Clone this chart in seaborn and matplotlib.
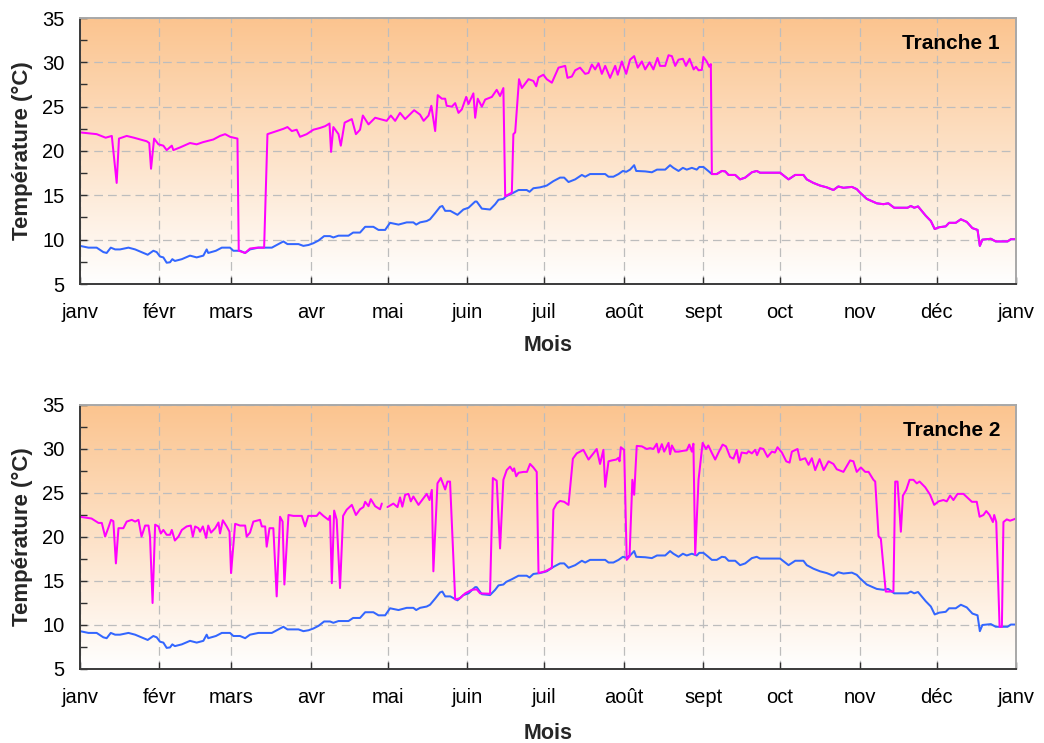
import numpy as np
import pandas as pd
import matplotlib
matplotlib.use("Agg")
import matplotlib.pyplot as plt
from matplotlib.ticker import MultipleLocator
import seaborn as sns

# ---------------- data ----------------
month_days = [0, 31, 59, 90, 120, 151, 181, 212, 243, 273, 304, 334, 365]
month_labels = ["janv", "févr", "mars", "avr", "mai", "juin", "juil", "août",
                "sept", "oct", "nov", "déc", "janv"]
panel_titles = ["Tranche 1", "Tranche 2"]

# river (inlet) temperature, same in both panels: (day, °C)
blue_points = [
    (0, 9.3), (3.3, 9.1), (6.5, 9.1), (9.1, 8.6), (10.4, 8.5), (12, 9.1), (13.7, 8.9),
    (15.6, 8.9), (18.9, 9.1), (21.5, 8.9), (24, 8.6), (26.4, 8.3), (28.6, 8.75),
    (29.9, 8.6), (31.2, 8.1), (32.5, 8.0), (33.8, 7.4), (35.1, 7.45), (36, 7.8),
    (37, 7.6), (39.7, 7.8), (42.9, 8.2), (45.5, 8.0), (48.1, 8.2), (49.4, 8.9),
    (50, 8.5), (53, 8.75), (55.3, 9.1), (58.5, 9.1), (59.8, 8.75), (62.4, 8.75),
    (64.4, 8.5), (66.3, 8.9), (69.6, 9.1), (74.8, 9.1), (76.7, 9.4), (79.3, 9.8),
    (80.9, 9.5), (85.2, 9.5), (87.1, 9.3), (89.1, 9.4), (91, 9.6), (93, 9.9),
    (95.2, 10.4), (97.5, 10.4), (98.8, 10.25), (100.8, 10.45), (104.7, 10.45),
    (106.5, 10.8), (109.2, 10.8), (111.2, 11.45), (114.4, 11.45), (116.4, 11.1),
    (119, 11.1), (120.9, 11.9), (124.2, 11.7), (127.4, 11.95), (130, 11.95),
    (131.1, 11.7), (132.6, 11.95), (135.2, 12.1), (136.5, 12.3), (138.5, 13.0),
    (140.4, 13.7), (141.3, 13.8), (142.4, 13.25), (144.4, 13.25), (147.2, 12.8),
    (149.5, 13.4), (151.5, 13.6), (154.1, 14.3), (154.7, 14.3), (156.7, 13.5),
    (159.9, 13.4), (161.9, 14.0), (163.2, 14.5), (165.1, 14.6), (166.2, 14.9),
    (168.4, 15.2), (171, 15.6), (174.2, 15.6), (175.3, 15.4), (176.8, 15.8),
    (179.4, 15.9), (182, 16.1), (184.6, 16.6), (187.2, 17.0), (188.8, 17.0),
    (190.5, 16.5), (193.1, 16.8), (195.7, 17.3), (197, 17.1), (198.9, 17.4),
    (204.8, 17.4), (206.1, 17.1), (208, 17.1), (210, 17.4), (211.7, 17.75),
    (213, 17.65), (214.5, 17.9), (216.1, 18.4), (216.9, 17.75), (220.4, 17.7),
    (223, 17.6), (225, 17.9), (228.2, 17.9), (230.1, 18.4), (231.4, 18.1),
    (233.4, 17.75), (235.1, 18.1), (236.6, 17.9), (238.6, 18.1), (240.5, 17.9),
    (241.5, 18.2), (243.1, 18.2), (245, 17.75), (246.4, 17.4), (248.3, 17.4),
    (250.3, 17.75), (251.6, 17.7), (252.9, 17.3), (255.5, 17.3), (257.4, 16.8),
    (259.4, 17.0), (262, 17.6), (263.9, 17.75), (265.2, 17.55), (273, 17.55),
    (276.3, 16.8), (278.9, 17.3), (282.1, 17.3), (283.4, 16.8), (286, 16.4),
    (288.6, 16.1), (291.2, 15.9), (293.8, 15.6), (295.7, 16.0), (297.7, 15.85),
    (301, 15.95), (302.9, 15.7), (304.2, 15.3), (306.8, 14.6), (310.7, 14.1),
    (313.3, 14.0), (315.2, 14.1), (317.5, 13.6), (322.7, 13.6), (324, 13.8),
    (325.3, 13.6), (326.8, 13.75), (329.8, 12.7), (331.8, 12.1), (333.3, 11.2),
    (335, 11.4), (337.6, 11.5), (338.9, 11.9), (341.5, 11.9), (343.5, 12.3),
    (345.8, 12.0), (348, 11.3), (350, 11.1), (350.9, 9.3), (351.9, 10.0),
    (355.2, 10.1), (357.1, 9.8), (361.7, 9.8), (363, 10.05), (365, 10.05),
]

# Tranche 1 outlet temperature until it meets the river curve (day 246.4)
t1_points = [
    (0, 22.1), (6.5, 21.9), (10, 21.5), (12.4, 21.7), (14.3, 16.4), (15.2, 21.4),
    (18.2, 21.7), (21, 21.5), (26, 21.1), (27, 20.9), (27.7, 18.0), (28.9, 21.4),
    (30.6, 20.75), (32.5, 20.6), (33.8, 20.1), (35.8, 20.6), (36.4, 20.1), (39, 20.4),
    (42.9, 20.9), (45.5, 20.75), (48, 21.0), (52, 21.3), (54.6, 21.7), (56.6, 21.9),
    (58.5, 21.6), (61.4, 21.4), (61.9, 8.75), (64.4, 8.5), (66.3, 9.0), (69, 9.1),
    (71.8, 9.1), (73.1, 21.9), (76.7, 22.25), (79.3, 22.5), (80.9, 22.7),
    (82.6, 22.25), (84.5, 22.4), (85.8, 21.6), (88.4, 21.9), (91, 22.4), (93.6, 22.6),
    (95.6, 22.8), (97.3, 23.1), (97.9, 19.9), (98.8, 22.7), (100.8, 21.9),
    (101.7, 20.6), (103.2, 23.2), (106, 23.6), (107.6, 21.9), (109.2, 22.4),
    (110.3, 24.0), (112.5, 23.0), (115.1, 23.75), (117, 23.6), (119.6, 23.4),
    (121.2, 24.0), (122.9, 23.4), (124.8, 24.3), (126.8, 23.6), (130.3, 24.6),
    (132.6, 24.1), (134, 23.4), (135.9, 24.0), (137, 25.1), (138.5, 22.25),
    (139.5, 26.3), (141.1, 25.9), (142.4, 25.9), (143, 25.1), (145, 25.0),
    (146.3, 25.4), (147.6, 24.3), (148.9, 24.7), (150.6, 26.1), (151.5, 25.3),
    (153.4, 26.5), (154.1, 23.75), (155.1, 25.9), (156.7, 25.0), (158, 25.8),
    (160.6, 26.1), (162.5, 26.9), (163.8, 26.2), (165.1, 27.1), (165.8, 14.9),
    (168.4, 15.3), (169, 21.9), (169.7, 22.1), (171.2, 28.1), (172.3, 27.1),
    (174.9, 28.1), (176.8, 27.9), (177.9, 27.3), (178.8, 28.3), (180.7, 28.6),
    (182, 28.1), (184, 27.7), (186.6, 29.4), (189.2, 29.6), (190.1, 28.25),
    (191.8, 28.4), (193.1, 29.1), (195, 29.4), (197, 28.7), (198.3, 28.8),
    (199.6, 29.75), (200.9, 29.2), (202.2, 29.9), (203.5, 28.7), (204.8, 29.6),
    (206.7, 28.25), (208.7, 29.6), (209.7, 28.6), (211.3, 30.1), (213, 28.7),
    (214.5, 30.3), (216.1, 30.7), (217.5, 29.4), (219.1, 30.1), (220.4, 29.2),
    (222.1, 30.0), (223.6, 29.2), (225.2, 30.5), (226.2, 29.6), (228.2, 29.6),
    (229.5, 30.8), (230.8, 30.7), (232.1, 29.6), (233.4, 30.3), (235.1, 30.4),
    (236.3, 29.6), (237.7, 30.4), (239.3, 29.2), (240.2, 29.5), (241.2, 29.1),
    (242.5, 29.15), (243.1, 30.6), (244.4, 30.1), (245.4, 29.5), (246, 29.8),
    (246.4, 17.4),
]

# Tranche 2 outlet temperature (None = missing data)
t2_points = [
    (0, 22.3), (4.5, 22.1), (7.2, 21.6), (8.5, 21.6), (9.8, 20.05), (11, 21.0),
    (12.1, 21.95), (13, 21.8), (14, 17.0), (15, 21.0), (16.9, 21.0), (18.2, 21.75),
    (20.2, 21.95), (21.5, 21.75), (22.8, 21.95), (24, 20.05), (25.4, 21.3),
    (26.7, 21.3), (27.3, 20.05), (28.3, 12.5), (29.3, 21.4), (30.6, 21.2),
    (31.5, 20.4), (32.5, 20.8), (33.8, 20.25), (35.1, 20.25), (35.8, 20.8),
    (37, 19.6), (38.4, 20.05), (39.7, 20.8), (41.6, 21.2), (43.2, 21.3), (44, 20.05),
    (44.9, 21.2), (46.2, 21.0), (46.8, 20.6), (47.9, 21.2), (49.2, 19.9), (50, 21.3),
    (51.1, 20.5), (52.7, 21.0), (54, 21.65), (54.6, 20.4), (55.7, 21.9), (57.2, 21.2),
    (58.3, 20.6), (58.9, 15.9), (60.5, 21.5), (62.4, 21.3), (64.4, 21.3), (65, 20.05),
    (66.3, 20.5), (67.6, 21.75), (70.2, 21.95), (70.9, 21.2), (72.2, 21.2),
    (72.8, 18.9), (73.9, 21.0), (75.4, 21.0), (76.7, 13.25), (78, 22.3), (79, 21.75),
    (79.7, 14.6), (81.3, 22.5), (83.2, 22.4), (86.5, 22.4), (87.8, 21.2), (89, 22.4),
    (92.3, 22.4), (93.4, 22.8), (94.9, 22.4), (96.9, 21.95), (97.5, 22.4),
    (98.2, 14.75), (99.1, 23.0), (100.1, 21.95), (101.4, 14.2), (102.6, 22.4),
    (104, 23.1), (106, 23.65), (107.6, 22.5), (109.2, 23.15), (110.5, 23.4),
    (111.2, 24.0), (112.5, 23.5), (113.4, 24.3), (115.1, 23.5), (117, 23.15),
    (117.7, 23.8), (118.8, None), (119.9, 23.4), (122.2, 23.8), (123.8, 23.4),
    (124.8, 24.5), (125.7, 23.45), (126.8, 24.8), (128.1, 24.9), (129, 24.05),
    (130, 24.6), (132, 23.65), (133.9, 24.4), (135.2, 24.9), (136.3, 24.2),
    (137.2, 25.35), (137.8, 16.1), (139.4, 26.1), (140.7, 26.7), (142.4, 25.4),
    (143.3, 26.3), (144.3, 26.3), (146.3, 12.9), (148.2, 13.05), (150.2, 13.6),
    (152.8, 14.0), (154.7, 14.05), (156, 13.6), (159.9, 13.55), (161, 26.7),
    (162.5, 26.4), (163.8, 18.7), (165.1, 26.5), (166.4, 27.6), (167.7, 28.0),
    (168.8, 27.5), (169.3, 27.8), (170.1, 26.9), (171, 27.3), (173, 27.4),
    (174.3, 27.4), (175.5, 28.3), (176.8, 27.9), (178.1, 27.4), (178.8, 15.9),
    (181.4, 16.1), (184, 16.5), (184.6, 23.1), (185.9, 23.8), (187.2, 24.1),
    (188.8, 24.0), (190.5, 23.65), (192.2, 28.9), (193.7, 29.5), (196.3, 29.9),
    (198.3, 28.8), (200.2, 29.5), (201.5, 30.0), (202.8, 28.3), (204.1, 29.9),
    (204.8, 25.7), (206.1, 28.6), (207.4, 28.7), (209.1, 28.8), (210, 29.0),
    (210.4, 28.6), (210.9, 30.2), (212.2, 29.9), (213.2, 17.4), (214.3, 17.8),
    (215.4, 26.5), (216.1, 24.8), (217.1, 30.35), (219.1, 30.3), (221, 30.0),
    (222.3, 30.1), (223.6, 30.0), (224.9, 30.6), (225.6, 29.6), (226.9, 30.55),
    (227.8, 29.7), (228.8, 30.3), (229.5, 30.7), (230.1, 29.4), (230.8, 30.4),
    (232.1, 29.7), (233.4, 29.7), (235.3, 29.8), (236.6, 29.85), (237.6, 30.5),
    (238.6, 29.7), (239.2, 30.6), (239.9, 18.0), (241.2, 26.5), (242.8, 30.7),
    (244.1, 30.0), (245, 30.4), (246.4, 29.55), (247.7, 28.8), (249, 29.6),
    (250.6, 30.5), (251.9, 30.3), (253.5, 29.1), (254.8, 28.9), (256.1, 29.9),
    (257, 28.45), (258, 29.6), (260, 29.5), (260.7, 29.75), (262, 29.5),
    (263.3, 29.9), (264, 29.3), (265.2, 30.1), (266.5, 30.0), (268.1, 29.1),
    (269.8, 29.7), (271, 29.6), (272, 30.2), (273.7, 29.6), (275.4, 28.6),
    (276.7, 28.45), (277.6, 29.7), (279.8, 30.0), (280.8, 28.75), (282.8, 28.95),
    (284.1, 28.2), (285.4, 28.95), (286.7, 27.6), (288.4, 28.85), (290, 27.6),
    (291.9, 28.6), (293.8, 28.3), (295.1, 27.7), (297.7, 27.4), (300.3, 28.7),
    (301.6, 28.6), (302.9, 27.4), (304.5, 27.9), (306.2, 27.4), (307.5, 27.4),
    (309.4, 26.5), (310.1, 26.3), (311.4, 20.1), (312.3, 19.8), (314.2, 13.8),
    (316.6, 13.8), (317.2, 13.8), (317.9, 26.3), (318.8, 26.3), (320.1, 20.6),
    (320.9, 24.7), (322.2, 25.35), (323.5, 26.5), (325, 26.5), (326.3, 26.1),
    (327.4, 26.3), (329.6, 25.65), (331.5, 24.8), (333.1, 23.65), (334.8, 24.05),
    (336.7, 24.2), (338, 24.05), (339.3, 24.7), (340.6, 24.2), (342.2, 24.9),
    (344.5, 24.9), (345.8, 24.55), (347.8, 24.0), (349.7, 24.0), (350.8, 22.3),
    (352.3, 22.5), (353.4, 22.95), (354.7, 22.5), (356, 21.7), (356.5, 22.5),
    (357.3, 21.7), (358.6, 9.8), (359.5, 9.8), (360.1, 21.7), (361.4, 22.0),
    (362.7, 21.85), (365, 22.1),
]

# ---------------- build frames ----------------
def to_frame(points):
    df = pd.DataFrame(points, columns=["jour", "temp"]).astype(float)
    df["seg"] = df["temp"].isna().cumsum()
    return df.dropna().reset_index(drop=True)

blue_df = to_frame(blue_points)
t1_head = to_frame(t1_points)
t1_df = pd.concat([t1_head, blue_df[blue_df["jour"] > t1_head["jour"].max()]],
                  ignore_index=True)
t1_df["seg"] = 0
t2_df = to_frame(t2_points)
outlet_frames = [t1_df, t2_df]

# ---------------- style ----------------
sns.set_theme(style="white")
plt.rcParams["font.family"] = ["Liberation Sans", "DejaVu Sans"]

BLUE = "#3366FF"
MAGENTA = "#FF00FF"

fig = plt.figure(figsize=(10.44, 7.43), dpi=100)
W, H = 1044, 743
axes_px = [(80, 18, 1016, 284), (80, 405, 1016, 669)]

# vertical gradient (orange top -> white bottom)
top_rgb = np.array([251, 196, 143]) / 255.0
bot_rgb = np.array([255, 255, 255]) / 255.0
t = np.linspace(0, 1, 256)[:, None]
grad = (top_rgb[None, :] * (1 - t) + bot_rgb[None, :] * t)[:, None, :]

for i, (x0, y0, x1, y1) in enumerate(axes_px):
    ax = fig.add_axes([x0 / W, 1 - y1 / H, (x1 - x0) / W, (y1 - y0) / H])
    ax.imshow(grad, extent=[0, 1, 0, 1], transform=ax.transAxes,
              aspect="auto", zorder=0, interpolation="bilinear")

    sns.lineplot(data=blue_df, x="jour", y="temp", units="seg", estimator=None,
                 sort=False, color=BLUE, linewidth=1.45, ax=ax, zorder=3)
    sns.lineplot(data=outlet_frames[i], x="jour", y="temp", units="seg",
                 estimator=None, sort=False, color=MAGENTA, linewidth=1.45,
                 ax=ax, zorder=4)

    ax.set_xlim(0, 365)
    ax.set_ylim(5, 35)
    ax.set_xticks(month_days)
    ax.set_xticklabels(month_labels)
    ax.yaxis.set_major_locator(MultipleLocator(5))
    ax.yaxis.set_minor_locator(MultipleLocator(2.5))

    ax.grid(True, which="major", color="#BDBDBD", linestyle=(0, (7, 4)),
            linewidth=0.9, zorder=1)
    ax.set_axisbelow(False)
    for gl in ax.get_xgridlines() + ax.get_ygridlines():
        gl.set_zorder(1)

    ax.tick_params(axis="both", which="both", direction="in", colors="#303030",
                   labelcolor="black")
    ax.tick_params(axis="x", which="major", length=5, width=1, labelsize=14.5,
                   pad=14, bottom=True, top=False)
    ax.tick_params(axis="y", which="major", length=5, width=1, labelsize=14.5,
                   pad=11, left=True, right=False)
    ax.tick_params(axis="y", which="minor", length=5, width=1, left=True,
                   right=False)

    for side in ["left", "bottom"]:
        ax.spines[side].set_color("#3A3A3A")
        ax.spines[side].set_linewidth(1.4)
    for side in ["top", "right"]:
        ax.spines[side].set_color("#A8A8A8")
        ax.spines[side].set_linewidth(1.4)
    for sp in ax.spines.values():
        sp.set_visible(True)
        sp.set_zorder(5)

    ax.set_ylabel("Température (°C)", fontsize=16, fontweight="bold")
    ax.set_xlabel("Mois", fontsize=15.5, fontweight="bold")
    ax.yaxis.set_label_coords(-0.05, 0.5)
    ax.xaxis.set_label_coords(0.5, -0.19 if i == 0 else -0.205)

    ax.text(0.983, 0.905, panel_titles[i], transform=ax.transAxes,
            ha="right", va="center", fontsize=15, fontweight="bold",
            color="black", zorder=6)

fig.savefig("out.png", dpi=100)
